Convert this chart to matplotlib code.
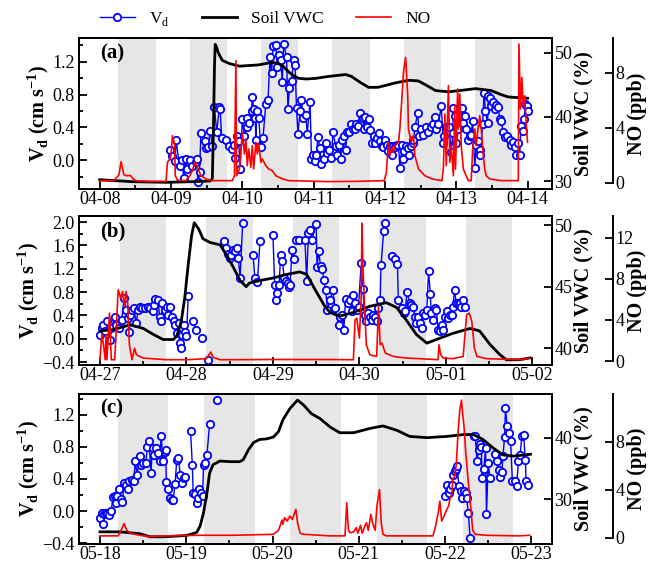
import numpy as np
import matplotlib.pyplot as plt
from matplotlib.ticker import MultipleLocator, FuncFormatter
from matplotlib.lines import Line2D

plt.rcParams['font.family'] = ['Liberation Serif', 'DejaVu Serif']
plt.rcParams['mathtext.fontset'] = 'custom'
plt.rcParams['mathtext.rm'] = 'Liberation Serif'
plt.rcParams['mathtext.bf'] = 'Liberation Serif:bold'
plt.rcParams['axes.linewidth'] = 1.4

# time in days from the first labelled date of each period
dates_a = ['04-08', '04-09', '04-10', '04-11', '04-12', '04-13', '04-14']
dates_b = ['04-27', '04-28', '04-29', '04-30', '05-01', '05-02']
dates_c = ['05-18', '05-19', '05-20', '05-21', '05-22', '05-23']

# daytime (hours) shaded grey
day_a = (6.3, 18.9)
day_b = (5.5, 18.4)
day_c = (5.0, 19.0)

# ---------------- period (a) ----------------
vd_a = [(0.99, 0.13), (1.02, 0.05), (1.06, -0.01), (1.07, 0.25), (1.12, -0.07), (1.15, 0.00),
        (1.18, -0.21), (1.21, 0.02), (1.23, -0.11), (1.27, 0.00), (1.30, -0.07), (1.35, -0.02),
        (1.36, 0.02), (1.38, -0.27), (1.40, -0.14), (1.42, 0.33), (1.47, 0.24), (1.49, 0.15),
        (1.52, 0.16), (1.55, 0.36), (1.58, 0.17), (1.61, 0.65), (1.64, 0.34), (1.68, 0.65),
        (1.69, 0.62), (1.71, 0.27), (1.77, 0.25), (1.82, 0.17), (1.85, 0.14), (1.89, 0.19),
        (1.90, 0.03), (1.93, 0.30), (1.95, 0.23), (1.97, -0.10), (2.00, 0.50), (2.03, 0.30),
        (2.06, 0.41), (2.07, 0.51), (2.09, 0.45), (2.13, 0.60), (2.14, 0.77), (2.16, 0.63),
        (2.18, 0.52), (2.19, 0.25), (2.20, 0.60), (2.23, 0.52), (2.26, 0.16), (2.29, 0.27),
        (2.33, 0.69), (2.36, 0.73), (2.39, 1.26), (2.41, 1.06), (2.43, 1.39), (2.47, 1.40),
        (2.49, 1.14), (2.51, 1.28), (2.54, 1.22), (2.56, 0.95), (2.58, 1.41), (2.62, 1.26),
        (2.64, 0.62), (2.66, 0.88), (2.69, 0.96), (2.72, 1.22), (2.74, 1.16), (2.76, 0.64),
        (2.78, 0.32), (2.81, 0.60), (2.83, 0.74), (2.85, 0.52), (2.89, 0.55), (2.91, 0.32),
        (2.95, 0.71), (2.97, 0.01), (2.99, 0.07), (3.02, -0.01), (3.04, 0.06), (3.06, 0.28),
        (3.09, 0.15), (3.11, -0.05), (3.14, 0.01), (3.17, 0.21), (3.19, 0.09), (3.22, 0.13),
        (3.25, 0.03), (3.27, 0.34), (3.31, 0.17), (3.33, 0.07), (3.36, 0.19), (3.38, 0.02),
        (3.40, 0.25), (3.42, 0.29), (3.45, 0.13), (3.47, 0.35), (3.50, 0.34), (3.52, 0.44),
        (3.55, 0.38), (3.58, 0.38), (3.59, 0.44), (3.62, 0.42), (3.65, 0.58), (3.69, 0.51),
        (3.71, 0.38), (3.72, 0.53), (3.75, 0.41), (3.77, 0.50), (3.79, 0.37), (3.82, 0.21),
        (3.84, 0.29), (3.86, 0.21), (3.89, 0.27), (3.91, 0.33), (3.93, 0.24), (3.96, 0.18),
        (3.98, 0.16), (4.00, 0.25), (4.03, 0.19), (4.05, 0.11), (4.07, 0.17), (4.10, 0.07),
        (4.12, 0.17), (4.14, 0.16), (4.17, 0.19), (4.19, 0.19), (4.21, -0.09), (4.24, 0.19),
        (4.26, 0.01), (4.27, 0.11), (4.29, 0.17), (4.32, 0.15), (4.34, 0.06), (4.37, 0.17),
        (4.39, 0.21), (4.40, 0.25), (4.42, 0.40), (4.46, 0.58), (4.48, 0.29), (4.50, 0.38),
        (4.54, 0.31), (4.58, 0.40), (4.61, 0.34), (4.64, 0.40), (4.68, 0.44), (4.70, 0.53),
        (4.72, 0.38), (4.75, 0.44), (4.79, 0.66), (4.82, 0.21), (4.83, 0.29), (4.85, 0.40),
        (4.87, 0.41), (4.90, 0.40), (4.93, 0.10), (4.95, 0.33), (4.96, 0.64), (4.98, 0.54),
        (5.00, 0.21), (5.03, 0.38), (5.07, 0.62), (5.08, 0.64), (5.10, 0.46), (5.12, 0.54),
        (5.14, 0.38), (5.17, 0.25), (5.19, 0.29), (5.21, 0.31), (5.23, 0.48), (5.26, -0.09),
        (5.28, 0.19), (5.31, 0.24), (5.33, 0.13), (5.34, 0.07), (5.37, 0.44), (5.39, 0.82),
        (5.41, 0.60), (5.44, 0.46), (5.45, 0.78), (5.47, 0.76), (5.49, 0.66), (5.52, 0.71),
        (5.54, 0.63), (5.56, 0.67), (5.59, 0.65), (5.61, 0.50), (5.63, 0.48), (5.66, 0.34),
        (5.69, 0.28), (5.71, 0.29), (5.75, 0.25), (5.77, 0.19), (5.80, 0.22), (5.82, 0.16),
        (5.84, 0.07), (5.87, 0.21), (5.89, 0.07), (5.91, 0.42), (5.93, 0.36), (5.95, 0.50),
        (5.97, 0.68), (5.99, 0.66), (6.00, 0.60)]

vwc_a = [(0.00, 30.2), (0.46, 29.9), (0.94, 29.8), (1.30, 29.9), (1.55, 30.0), (1.58, 30.4),
         (1.595, 38.0), (1.61, 48.0), (1.62, 51.3), (1.64, 50.8), (1.66, 50.1), (1.68, 49.6),
         (1.72, 48.8), (1.82, 48.3), (1.96, 47.9), (2.10, 48.0), (2.23, 48.1), (2.42, 48.5),
         (2.51, 48.3), (2.58, 47.8), (2.65, 47.0), (2.72, 46.4), (2.79, 46.0), (2.90, 45.9),
         (3.03, 46.0), (3.21, 46.3), (3.45, 46.6), (3.53, 46.3), (3.65, 45.4), (3.77, 44.6),
         (3.90, 44.6), (4.01, 44.9), (4.15, 45.3), (4.33, 45.7), (4.47, 45.6), (4.60, 44.8),
         (4.71, 44.1), (4.89, 43.9), (5.05, 44.1), (5.27, 44.4), (5.49, 44.1), (5.62, 43.5),
         (5.73, 43.1), (6.00, 42.9)]

no_a = [(0.00, 0.17), (0.20, 0.17), (0.27, 0.60), (0.30, 1.55), (0.34, 0.60), (0.37, 0.53),
        (0.43, 0.55), (0.47, 0.30), (0.51, 0.17), (0.70, 0.10), (0.93, 0.12), (0.95, 1.50),
        (0.99, 1.80), (1.00, 2.00), (1.02, 3.44), (1.05, 2.84), (1.06, 0.53), (1.09, 0.20),
        (1.21, 0.17), (1.26, 0.50), (1.30, 0.90), (1.34, 1.55), (1.37, 1.14), (1.42, 0.53),
        (1.49, 0.30), (1.58, 0.17), (1.86, 0.17), (1.89, 0.53), (1.91, 8.90), (1.92, 0.53),
        (1.96, 1.02), (2.00, 3.68), (2.03, 2.11), (2.05, 3.20), (2.07, 1.26), (2.09, 2.47),
        (2.12, 1.14), (2.14, 2.71), (2.16, 1.02), (2.19, 2.96), (2.21, 2.11), (2.23, 2.84),
        (2.26, 1.50), (2.28, 1.75), (2.33, 1.26), (2.37, 1.02), (2.42, 0.90), (2.47, 0.53),
        (2.56, 0.30), (2.65, 0.17), (3.21, 0.10), (3.60, 0.12), (3.99, 0.17), (4.02, 0.77),
        (4.05, 2.96), (4.07, 1.99), (4.10, 2.59), (4.12, 2.23), (4.14, 2.71), (4.19, 2.96),
        (4.21, 3.93), (4.24, 6.35), (4.26, 8.05), (4.29, 9.14), (4.32, 6.35), (4.33, 3.93),
        (4.37, 2.96), (4.40, 3.44), (4.42, 1.99), (4.47, 1.02), (4.56, 0.53), (4.66, 0.30),
        (4.80, 0.17), (4.82, 1.14), (4.84, 5.02), (4.86, 1.26), (4.89, 7.08), (4.91, 1.50),
        (4.93, 2.71), (4.96, 0.53), (4.98, 5.62), (4.99, 1.02), (5.02, 6.84), (5.03, 3.93),
        (5.05, 6.47), (5.07, 2.71), (5.10, 1.02), (5.12, 0.77), (5.14, 0.53), (5.17, 0.17),
        (5.21, 0.17), (5.23, 2.47), (5.26, 3.93), (5.28, 2.71), (5.31, 4.17), (5.33, 4.90),
        (5.35, 3.93), (5.38, 1.99), (5.40, 1.02), (5.42, 0.53), (5.47, 0.30), (5.63, 0.17),
        (5.87, 0.17), (5.88, 10.1), (5.90, 5.38), (5.92, 7.68), (5.94, 5.62), (5.96, 6.35),
        (5.98, 4.41), (6.00, 2.96)]

# ---------------- period (b) ----------------
vd_b = [(0.00, 0.07), (0.02, 0.18), (0.04, 0.23), (0.06, 0.13), (0.08, 0.30), (0.12, -0.02),
        (0.13, 0.18), (0.17, 0.38), (0.19, 0.24), (0.22, 0.18), (0.25, 0.32), (0.28, 0.70),
        (0.30, 0.50), (0.32, 0.35), (0.34, 0.12), (0.35, 0.40), (0.37, 0.50), (0.39, 0.52),
        (0.42, 0.27), (0.44, 0.50), (0.46, 0.55), (0.49, 0.52), (0.52, 0.52), (0.55, 0.55),
        (0.58, 0.52), (0.61, 0.47), (0.62, 0.58), (0.64, 0.69), (0.67, 0.66), (0.69, 0.38),
        (0.71, 0.30), (0.72, 0.61), (0.75, 0.50), (0.77, 0.55), (0.79, 0.41), (0.81, 0.55),
        (0.83, 0.38), (0.85, 0.30), (0.87, 0.23), (0.89, 0.10), (0.91, 0.27), (0.92, -0.07),
        (0.94, -0.15), (0.95, 0.07), (0.97, 0.23), (0.98, 0.12), (1.00, 0.04), (1.02, 0.74),
        (1.04, None), (1.08, 0.30), (1.11, 0.15), (1.14, None), (1.18, 0.01), (1.21, None),
        (1.25, -0.36), (1.30, None),
        (1.43, 1.68), (1.46, 1.55), (1.48, 1.46), (1.50, 1.38), (1.52, 1.44), (1.54, 1.52),
        (1.56, 1.50), (1.58, 1.56), (1.60, 1.38), (1.62, 1.05), (1.65, 1.98), (1.70, None),
        (1.77, 1.44), (1.79, 1.05), (1.82, 0.98), (1.85, 1.67), (1.90, None),
        (2.00, 1.78), (2.02, 0.92), (2.03, 0.67), (2.05, 0.78), (2.07, 0.92), (2.09, 1.44),
        (2.11, 1.34), (2.13, 1.04), (2.15, 0.99), (2.17, 0.95), (2.18, 0.89), (2.20, 0.93),
        (2.22, 1.52), (2.24, 1.36), (2.26, None),
        (2.27, 1.70), (2.30, 1.69), (2.37, 1.70), (2.39, 0.99), (2.41, 1.81), (2.43, 1.86),
        (2.45, 1.70), (2.50, 1.96), (2.51, 1.23), (2.53, 1.50), (2.55, 1.25), (2.57, 1.20),
        (2.59, 1.00), (2.61, 0.83), (2.63, 0.50), (2.66, 0.66), (2.69, 0.84), (2.72, 0.52),
        (2.76, 0.24), (2.78, 0.38), (2.80, 0.41), (2.82, 0.15), (2.84, 0.69), (2.87, 0.61),
        (2.89, 0.66), (2.91, 0.47), (2.93, 0.75), (2.95, 0.61), (2.97, 0.50), (2.99, 0.55),
        (3.02, 1.29), (3.04, 0.86), (3.06, 0.41), (3.08, 0.30), (3.10, 0.44), (3.12, 0.38),
        (3.14, 0.32), (3.16, 0.41), (3.18, 0.38), (3.20, 0.30), (3.22, 0.52), (3.24, 0.66),
        (3.25, 1.26), (3.28, 1.84), (3.30, 1.98), (3.34, None),
        (3.38, 1.41), (3.41, 1.36), (3.44, 1.28), (3.45, 0.66), (3.49, 0.52), (3.51, 0.44),
        (3.53, 0.47), (3.55, 0.81), (3.58, 0.61), (3.60, 0.58), (3.62, 0.55), (3.64, 0.38),
        (3.66, 0.27), (3.68, 0.38), (3.70, 0.27), (3.72, 0.18), (3.74, 0.44), (3.76, 0.41),
        (3.78, 0.50), (3.80, 1.17), (3.82, 0.76), (3.83, 0.44), (3.85, 0.32), (3.87, 0.52),
        (3.89, 0.50), (3.91, 0.15), (3.93, 0.13), (3.95, 0.24), (3.97, 0.15), (3.99, 0.38),
        (4.01, 0.48), (4.03, 0.36), (4.05, 0.41), (4.07, 0.41), (4.08, 0.55), (4.10, 0.83),
        (4.12, 0.61), (4.14, 0.61), (4.16, 0.61), (4.18, 0.55), (4.20, 0.66), (4.22, 0.55)]

vwc_b = [(0.00, 41.4), (0.15, 41.5), (0.35, 41.9), (0.50, 41.6), (0.62, 41.1), (0.73, 40.7),
         (0.85, 40.7), (0.89, 41.0), (0.94, 42.2), (0.98, 44.1), (1.02, 46.8), (1.06, 49.2),
         (1.09, 50.2), (1.14, 49.7), (1.19, 48.9), (1.27, 48.6), (1.39, 48.4), (1.46, 47.6),
         (1.54, 46.6), (1.62, 45.5), (1.69, 45.0), (1.73, 45.3), (1.85, 45.5), (2.00, 45.7),
         (2.16, 46.0), (2.31, 46.2), (2.39, 46.0), (2.50, 44.6), (2.60, 43.4), (2.66, 42.9),
         (2.77, 42.6), (2.93, 42.9), (3.12, 43.4), (3.31, 43.7), (3.43, 43.3), (3.54, 42.3),
         (3.66, 41.1), (3.78, 40.4), (3.89, 40.7), (4.08, 41.2), (4.28, 41.6), (4.39, 41.4),
         (4.51, 40.3), (4.62, 39.5), (4.70, 39.05), (4.85, 39.05), (4.97, 39.2)]

no_b = [(0.00, 0.13), (0.02, 2.56), (0.04, 1.59), (0.06, 0.13), (0.07, 2.56), (0.08, 0.13),
        (0.11, 4.66), (0.13, 0.13), (0.17, 0.13), (0.21, 6.93), (0.24, 6.12), (0.26, 6.76),
        (0.28, 5.31), (0.30, 6.76), (0.32, 5.63), (0.34, 1.59), (0.37, 0.13), (0.40, 1.26),
        (0.42, 0.61), (0.50, 0.29), (0.77, 0.13), (1.00, 0.13), (1.23, 0.23), (1.28, 0.87),
        (1.31, 0.35), (1.39, 0.13), (2.00, 0.15), (2.66, 0.15), (2.93, 0.13), (2.95, 4.01),
        (2.97, 4.17), (3.00, 2.23), (3.02, 6.12), (3.03, 13.4), (3.04, 9.35), (3.06, 5.15),
        (3.08, 1.59), (3.12, 0.61), (3.20, 0.45), (3.22, 5.31), (3.24, 1.59), (3.26, 1.75),
        (3.30, 0.78), (3.39, 0.45), (3.54, 0.29), (3.70, 0.23), (3.91, 0.13), (3.92, 1.59),
        (3.94, 0.61), (3.97, 0.29), (4.08, 0.23), (4.20, 0.45), (4.24, 4.50), (4.27, 4.66),
        (4.30, 3.85), (4.33, 1.26), (4.36, 0.45), (4.47, 0.23), (4.85, 0.13), (4.97, 0.29)]

# ---------------- period (c) ----------------
vd_c = [(0.00, -0.09), (0.02, -0.02), (0.04, -0.16), (0.05, -0.04), (0.07, -0.02), (0.08, -0.04),
        (0.11, -0.05), (0.13, 0.00), (0.15, 0.17), (0.17, 0.19), (0.19, 0.10), (0.20, 0.19),
        (0.22, 0.27), (0.24, 0.15), (0.26, 0.12), (0.28, 0.35), (0.30, 0.33), (0.32, 0.27),
        (0.34, 0.37), (0.37, 0.39), (0.39, 0.37), (0.41, 0.62), (0.43, 0.45), (0.46, 0.68),
        (0.48, 0.58), (0.50, 0.60), (0.53, 0.60), (0.55, 0.80), (0.57, 0.87), (0.59, 0.48),
        (0.61, 0.78), (0.63, 0.70), (0.65, 0.79), (0.67, 0.72), (0.69, 0.62), (0.71, 0.93),
        (0.73, 0.62), (0.75, 0.74), (0.76, 0.76), (0.77, 0.36), (0.79, 0.27), (0.81, 0.16),
        (0.83, 0.14), (0.85, 0.14), (0.87, 0.34), (0.89, 0.63), (0.91, 0.66), (0.93, 0.45),
        (0.95, 0.35), (0.97, 0.41), (0.98, 0.43), (1.01, None),
        (1.05, 1.00), (1.07, 0.58), (1.08, 0.23), (1.10, 0.21), (1.12, 0.10), (1.14, 0.16),
        (1.15, 0.27), (1.17, 0.23), (1.19, 0.19), (1.20, 0.58), (1.22, 0.60), (1.24, 0.70),
        (1.27, 1.08), (1.31, None), (1.36, 1.38), (1.40, None),
        (4.00, 0.19), (4.02, 0.33), (4.04, 0.23), (4.06, 0.27), (4.08, 0.32), (4.09, 0.45),
        (4.11, 0.50), (4.13, 0.53), (4.14, 0.56), (4.16, 0.31), (4.18, 0.25), (4.20, 0.16),
        (4.22, 0.25), (4.24, 0.23), (4.25, 0.16), (4.27, -0.02), (4.29, -0.33), (4.31, None),
        (4.33, 0.93), (4.35, 0.93), (4.37, 0.62), (4.39, 0.76), (4.40, 0.84), (4.42, 0.80),
        (4.43, 0.41), (4.45, 0.53), (4.47, 0.78), (4.48, -0.04), (4.50, 0.60), (4.52, 0.41),
        (4.55, None),
        (4.58, 0.71), (4.60, 0.62), (4.62, 0.51), (4.64, 0.43), (4.66, 0.49), (4.67, 0.68),
        (4.69, 0.92), (4.70, 1.28), (4.72, 1.06), (4.74, 0.97), (4.76, 0.87), (4.78, 0.37),
        (4.81, 0.37), (4.83, 0.31), (4.85, 0.62), (4.87, 0.70), (4.89, 0.93), (4.91, 0.95),
        (4.93, 0.64), (4.94, 0.37), (4.96, 0.33)]

vwc_c = [(0.00, 24.7), (0.23, 24.7), (0.31, 24.6), (0.46, 24.4), (0.58, 23.9), (0.73, 23.9),
         (1.00, 24.1), (1.12, 24.6), (1.16, 25.6), (1.20, 27.8), (1.24, 31.0), (1.27, 34.2),
         (1.31, 35.6), (1.39, 36.2), (1.51, 36.1), (1.62, 36.1), (1.66, 36.4), (1.72, 38.0),
         (1.78, 39.2), (1.85, 39.7), (1.93, 39.8), (2.01, 40.1), (2.07, 41.0), (2.12, 42.9),
         (2.20, 44.7), (2.29, 46.1), (2.36, 45.3), (2.45, 43.9), (2.55, 43.1), (2.67, 41.7),
         (2.78, 40.8), (2.94, 40.8), (3.13, 41.5), (3.28, 41.9), (3.44, 41.2), (3.59, 40.2),
         (3.79, 40.0), (4.02, 40.2), (4.21, 40.5), (4.33, 40.5), (4.44, 39.7), (4.56, 38.3),
         (4.67, 37.2), (4.79, 37.0), (4.99, 37.3)]

no_c = [(0.00, 0.17), (0.21, 0.17), (0.25, 0.72), (0.28, 1.19), (0.31, 0.63), (0.35, 0.39),
        (0.46, 0.22), (0.58, 0.11), (0.77, 0.17), (1.16, 0.22), (1.55, 0.22), (2.01, 0.30),
        (2.07, 0.63), (2.11, 1.49), (2.12, 1.13), (2.14, 1.68), (2.17, 1.40), (2.20, 1.82),
        (2.23, 1.54), (2.27, 2.37), (2.29, 1.27), (2.32, 0.39), (2.36, 0.30), (2.67, 0.17),
        (2.84, 0.17), (2.86, 2.92), (2.88, 0.63), (2.90, 0.44), (2.94, 0.50), (2.97, 0.85),
        (2.99, 0.39), (3.02, 1.05), (3.04, 0.39), (3.07, 0.99), (3.09, 1.27), (3.11, 0.63),
        (3.14, 1.96), (3.16, 1.27), (3.19, 0.63), (3.21, 2.64), (3.24, 4.02), (3.26, 1.27),
        (3.28, 0.30), (3.32, 0.17), (3.86, 0.17), (3.89, 0.99), (3.92, 2.09), (3.94, 3.06),
        (3.96, 1.40), (3.98, 1.68), (4.02, 2.37), (4.04, 2.64), (4.06, 3.33), (4.08, 3.75),
        (4.09, 4.85), (4.11, 5.12), (4.13, 6.09), (4.15, 8.71), (4.17, 10.6), (4.19, 11.46),
        (4.20, 10.6), (4.22, 9.26), (4.24, 7.05), (4.27, 4.57), (4.30, 2.37), (4.32, 0.63),
        (4.35, 0.30), (4.48, 0.22), (4.86, 0.17), (4.98, 0.22)]

TICK_FS = 13
LABEL_FS = 14.5


def unzip(pairs):
    t = np.array([p[0] for p in pairs], float)
    y = np.array([np.nan if p[1] is None else p[1] for p in pairs], float)
    return t, y


def fmt1(x, pos):
    return f'{x:.1f}'.replace('-', '\u2212')


def panel(ax, tag, dates, daylight, vd, vwc, no, xlim, vdlim, vwclim, nolim,
          vd_ticks, vwc_ticks, no_ticks):
    ndays = len(dates)
    for k in range(ndays - 1):
        ax.axvspan(k + daylight[0] / 24, k + daylight[1] / 24,
                   color='#e6e6e6', lw=0, zorder=0)

    t, y = unzip(vd)
    ax.plot(t, y, '-o', color='blue', lw=1.0, ms=5.3, mfc='white',
            mec='blue', mew=1.3, zorder=3)
    ax.set_xlim(*xlim)
    ax.set_ylim(*vdlim)
    ax.set_yticks(vd_ticks)
    ax.yaxis.set_major_formatter(FuncFormatter(fmt1))
    ax.yaxis.set_minor_locator(MultipleLocator(0.2))
    ax.set_xticks(range(ndays))
    ax.set_xticklabels(dates)
    ax.set_xticks(np.arange(0.5, ndays - 1, 1.0), minor=True)
    ax.tick_params(which='both', direction='in', labelsize=TICK_FS, width=1.3)
    ax.tick_params(which='major', length=6)
    ax.tick_params(which='minor', length=3)
    ax.tick_params(axis='x', pad=1.5)
    ax.tick_params(axis='y', pad=3)
    ax.set_ylabel(r'V$_\mathbf{d}$ (cm s$^\mathbf{-1}$)', fontsize=LABEL_FS,
                  fontweight='bold', labelpad=1)
    ax.text(0.045, 0.9, tag, transform=ax.transAxes, fontsize=15,
            fontweight='bold', va='center', ha='left')

    ax2 = ax.twinx()
    t, y = unzip(vwc)
    ax2.plot(t, y, color='black', lw=2.0)
    ax2.set_ylim(*vwclim)
    ax2.set_yticks(vwc_ticks)
    ax2.tick_params(direction='in', length=6, width=1.3, labelsize=TICK_FS, pad=2)
    ax2.set_ylabel('Soil VWC (%)', fontsize=LABEL_FS, fontweight='bold')
    ax2.yaxis.set_label_coords(1.045, 0.5)

    ax3 = ax.twinx()
    t, y = unzip(no)
    ax3.plot(t, y, color='red', lw=1.2)
    ax3.set_ylim(*nolim)
    ax3.set_yticks(no_ticks)
    for s in ['top', 'bottom', 'left']:
        ax3.spines[s].set_visible(False)
    ax3.spines['right'].set_position(('axes', 1.129))
    ax3.spines['right'].set_bounds(0, nolim[1])
    ax3.tick_params(direction='in', length=6, width=1.3, labelsize=TICK_FS, pad=2)
    ax3.set_ylabel('NO (ppb)', fontsize=LABEL_FS, fontweight='bold')
    ax3.yaxis.set_label_coords(1.16, 0.5)
    ax3.set_xlim(*xlim)


fig = plt.figure(figsize=(6.53, 5.66), dpi=100)
left, width = 0.121, 0.724
ax_a = fig.add_axes([left, 0.666, width, 0.267])
ax_b = fig.add_axes([left, 0.355, width, 0.263])
ax_c = fig.add_axes([left, 0.039, width, 0.265])

panel(ax_a, '(a)', dates_a, day_a, vd_a, vwc_a, no_a,
      (-0.29, 6.34), (-0.35, 1.49), (28.75, 52.3), (-0.44, 10.55),
      [0.0, 0.4, 0.8, 1.2], [30, 40, 50], [0, 4, 8])
panel(ax_b, '(b)', dates_b, day_b, vd_b, vwc_b, no_b,
      (-0.243, 5.225), (-0.45, 2.10), (38.62, 50.73), (-0.39, 14.08),
      [-0.4, 0.0, 0.4, 0.8, 1.2, 1.6, 2.0], [40, 45, 50], [0, 4, 8, 12])
panel(ax_c, '(c)', dates_c, day_c, vd_c, vwc_c, no_c,
      (-0.243, 5.237), (-0.407, 1.457), (22.74, 47.1), (-0.5, 11.98),
      [-0.4, 0.0, 0.4, 0.8, 1.2], [30, 40], [0, 4, 8])

handles = [Line2D([], [], color='blue', lw=1.0, marker='o', ms=5.3, mfc='white', mew=1.3),
           Line2D([], [], color='black', lw=2.0),
           Line2D([], [], color='red', lw=1.2)]
fig.legend(handles, ['V$_\\mathrm{d}$', 'Soil VWC', 'NO'], loc='center',
           bbox_to_anchor=(0.406, 0.967), ncol=3, frameon=False, fontsize=12.5,
           handlelength=2.0, handletextpad=0.8, columnspacing=1.9, numpoints=1)

fig.savefig('out.png', dpi=100)
